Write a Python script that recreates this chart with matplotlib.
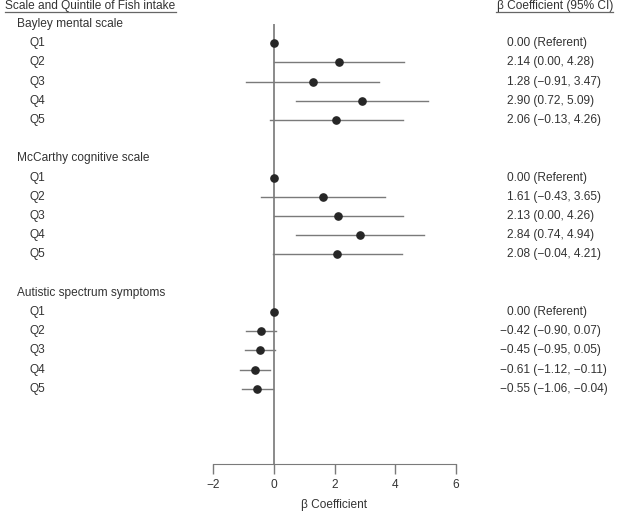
import matplotlib.pyplot as plt
from matplotlib.transforms import blended_transform_factory
import numpy as np

plt.rcParams['font.family'] = ['Liberation Sans', 'DejaVu Sans']

# data
groups = ['Bayley mental scale', 'McCarthy cognitive scale', 'Autistic spectrum symptoms']
quintiles = ['Q1', 'Q2', 'Q3', 'Q4', 'Q5']
est = [[0.00, 2.14, 1.28, 2.90, 2.06],
       [0.00, 1.61, 2.13, 2.84, 2.08],
       [0.00, -0.42, -0.45, -0.61, -0.55]]
lo = [[0.00, 0.00, -0.91, 0.72, -0.13],
      [0.00, -0.43, 0.00, 0.74, -0.04],
      [0.00, -0.90, -0.95, -1.12, -1.06]]
hi = [[0.00, 4.28, 3.47, 5.09, 4.26],
      [0.00, 3.65, 4.26, 4.94, 4.21],
      [0.00, 0.07, 0.05, -0.11, -0.04]]

W, H = 621, 511
fig = plt.figure(figsize=(W / 100, H / 100), dpi=100)
ax = fig.add_axes([213 / W, 47 / H, 243 / W, 464 / H])
ax.set_xlim(-2, 6)
ax.set_ylim(464, 0)

tr = blended_transform_factory(fig.transFigure, ax.transData)
txt = '#333333'
fs = 8.6
step = 19.2
y0 = 24

def fmt(v):
    return '{:.2f}'.format(v).replace('-', '\u2212')

for g, name in enumerate(groups):
    yh = y0 + step * 7 * g
    ax.text(17 / W, yh, name, transform=tr, ha='left', va='center', fontsize=fs, color=txt)
    for q in range(5):
        y = yh + step * (q + 1)
        ax.text(30 / W, y, quintiles[q], transform=tr, ha='left', va='center', fontsize=fs, color=txt)
        e, l, h = est[g][q], lo[g][q], hi[g][q]
        if q == 0:
            label = fmt(e) + ' (Referent)'
        else:
            ax.plot([l, h], [y, y], color='#7a7a7a', lw=1.0, zorder=2)
            label = '{} ({}, {})'.format(fmt(e), fmt(l), fmt(h))
        ax.plot(e, y, 'o', color='#262626', ms=5.2, zorder=3)
        xt = 500 if e < 0 else 507
        ax.text(xt / W, y, label, transform=tr, ha='left', va='center', fontsize=fs, color=txt)

# reference line
ax.plot([0, 0], [25, 464], color='#8a8a8a', lw=1.4, zorder=1)

# headers
ax.text(5 / W, 9, 'Scale and Quintile of Fish intake', transform=tr, ha='left', va='baseline',
        fontsize=fs, color=txt)
ax.plot([5 / W, 176 / W], [12.5, 12.5], transform=tr, color='#666666', lw=0.9, clip_on=False)
ax.text(497 / W, 9, '\u03b2 Coefficient (95% CI)', transform=tr, ha='left', va='baseline',
        fontsize=fs, color=txt)
ax.plot([496 / W, 613 / W], [12.5, 12.5], transform=tr, color='#666666', lw=0.9, clip_on=False)

for s in ['top', 'right', 'left']:
    ax.spines[s].set_visible(False)
ax.spines['bottom'].set_color('#7a7a7a')
ax.set_yticks([])
ax.set_xticks([-2, 0, 2, 4, 6])
ax.set_xticklabels(['\u22122', '0', '2', '4', '6'])
ax.tick_params(axis='x', colors='#7a7a7a', labelcolor=txt, labelsize=fs, length=7, width=1)
ax.set_xlabel('\u03b2 Coefficient', fontsize=fs, color=txt, labelpad=6)
ax.patch.set_alpha(0)

fig.savefig('out.png', dpi=100)
